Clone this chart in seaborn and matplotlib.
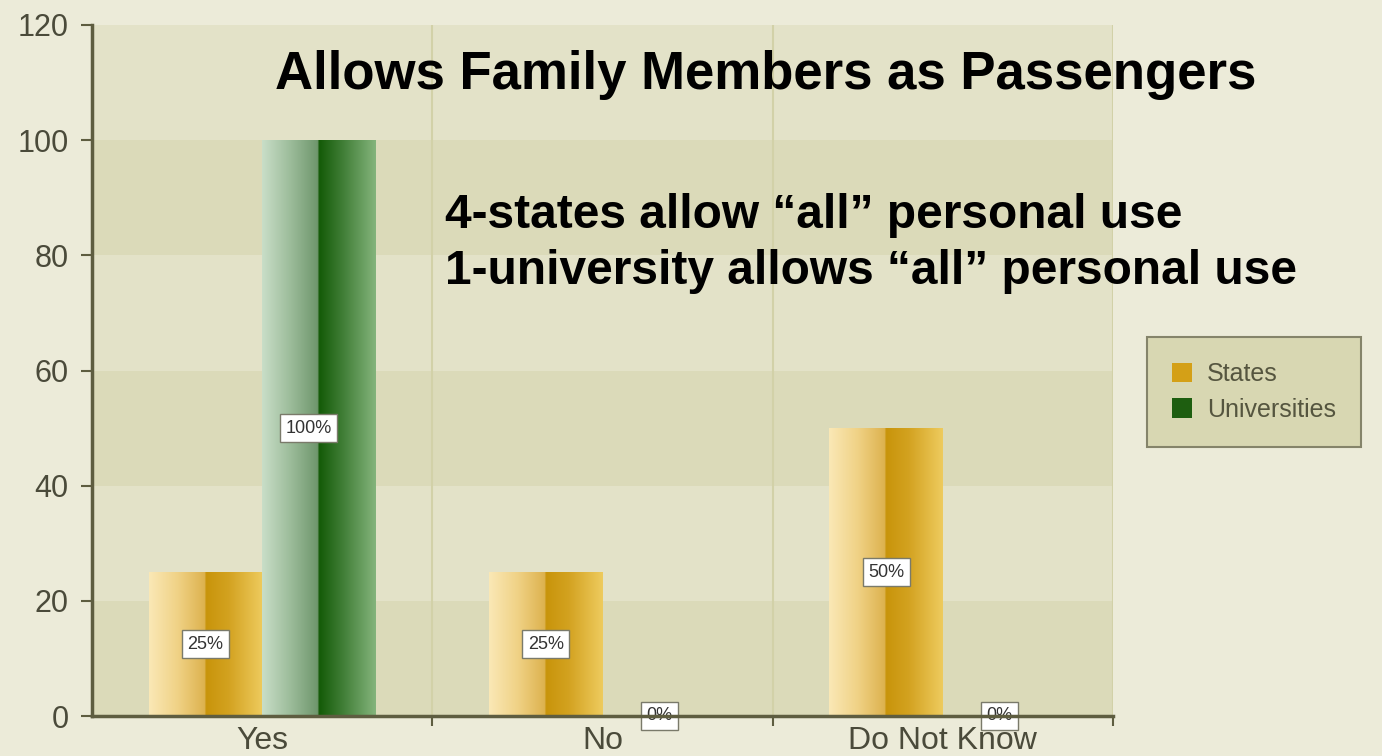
import numpy as np
import pandas as pd
import matplotlib
matplotlib.use("Agg")
import matplotlib.pyplot as plt
import seaborn as sns
from matplotlib.colors import LinearSegmentedColormap

# ---- data ----
categories = ["Yes", "No", "Do Not Know"]
states = [25, 25, 50]
universities = [100, 0, 0]
series = ["States", "Universities"]
y_ticks = [0, 20, 40, 60, 80, 100, 120]
title = "Allows Family Members as Passengers"
notes = ["4-states allow \u201call\u201d personal use",
         "1-university allows \u201call\u201d personal use"]

df = pd.DataFrame({
    "Response": categories * 2,
    "Percent": states + universities,
    "Group": [series[0]] * len(categories) + [series[1]] * len(categories),
})

sns.set_theme(style="white")
plt.rcParams['font.family'] = ['Liberation Sans', 'DejaVu Sans']

FIG_BG = "#ECEBD9"
AX_BG = "#E3E2C8"
BAND = "#DBDAB9"
SPINE = "#5E5D40"

W, H = 1382, 756
fig = plt.figure(figsize=(W / 100, H / 100), dpi=100, facecolor=FIG_BG)
ax = fig.add_axes([92 / W, 1 - 716 / H, (1113 - 92) / W, 691 / H])
ax.set_facecolor(AX_BG)

palette = {"States": "#D4A017", "Universities": "#1E5E10"}
sns.barplot(data=df, x="Response", y="Percent", hue="Group", palette=palette,
            width=0.667, saturation=1, ax=ax, legend=True, zorder=3)

# alternating bands
for lo in (0, 40, 80):
    ax.axhspan(lo, lo + 20, color=BAND, zorder=0, lw=0)

# category separators
for xb in (0.5, 1.5, 2.5):
    ax.axvline(xb, color="#D2D1A8", lw=1.5, zorder=1)

gold_cmap = LinearSegmentedColormap.from_list("gold", [
    (0.0, "#FAE8B6"), (0.25, "#F0D286"), (0.49, "#DDB24E"),
    (0.5, "#C8940A"), (0.7, "#D3A220"), (1.0, "#EECB5E")])
green_cmap = LinearSegmentedColormap.from_list("green", [
    (0.0, "#C9DEC8"), (0.25, "#9CBC9A"), (0.49, "#6E966C"),
    (0.5, "#135A07"), (0.7, "#3E7C34"), (1.0, "#84B47C")])
cmaps = [gold_cmap, green_cmap]
grad = np.linspace(0, 1, 256).reshape(1, -1)

for ci, cont in enumerate(ax.containers):
    for bar in cont:
        x0, w, h = bar.get_x(), bar.get_width(), bar.get_height()
        if h > 0:
            bar.set_edgecolor("none")
            im = ax.imshow(grad, cmap=cmaps[ci], aspect="auto",
                           extent=[x0, x0 + w, 0, h], zorder=4,
                           interpolation="bilinear")
            im.set_clip_path(bar)
        else:
            bar.set_edgecolor("#B8CDB4")
            bar.set_linewidth(2)
        ax.text(x0 + w / 2 - (0.03 if h >= 100 else 0), h / 2, f"{h:g}%",
                ha="center", va="center",
                fontsize=13, color="#333333", zorder=6,
                bbox=dict(boxstyle="square,pad=0.3", fc="white",
                          ec="#7A7A6A", lw=1))

ax.set_xlim(-0.5, 2.5)
ax.set_ylim(0, 120)
ax.set_yticks(y_ticks)
ax.set_xlabel("")
ax.set_ylabel("")
ax.set_xticks(range(len(categories)))
ax.set_xticklabels(categories)
ax.set_xticks([0.5, 1.5, 2.5], minor=True)
ax.tick_params(axis="x", which="major", length=0, labelsize=23,
               labelcolor="#4A4A3A", pad=7)
ax.tick_params(axis="x", which="minor", length=7, width=1.5, color=SPINE,
               direction="out", bottom=True)
ax.tick_params(axis="y", length=8, width=1.5, color=SPINE, direction="out",
               labelsize=22, labelcolor="#4A4A3A", left=True, pad=9)

for s in ("top", "right"):
    ax.spines[s].set_visible(False)
for s in ("left", "bottom"):
    ax.spines[s].set_color(SPINE)
    ax.spines[s].set_linewidth(2.5)
    ax.spines[s].set_zorder(7)

# legend
leg = ax.get_legend()
handles = leg.legend_handles
leg.remove()
leg = fig.legend(handles, series, loc="center",
                 bbox_to_anchor=(1254 / W, 1 - 392 / H),
                 bbox_transform=fig.transFigure, frameon=True, fancybox=False,
                 facecolor="#D8D7B2", edgecolor="#85846A", framealpha=1,
                 fontsize=18, handlelength=0.8, handleheight=0.8,
                 borderpad=1.0, labelspacing=0.45, handletextpad=0.6,
                 borderaxespad=0)
leg.get_frame().set_linewidth(1.5)
for t in leg.get_texts():
    t.set_color("#55553F")
for hnd, c in zip(leg.legend_handles, ["#D4A017", "#1E5E10"]):
    hnd.set_facecolor(c)
    hnd.set_edgecolor("none")

fig.text(766 / W, 1 - 75 / H, title, ha="center", va="center",
         fontsize=38, fontweight="bold", color="black")
fig.text(445 / W, 1 - 215 / H, notes[0], ha="left", va="center",
         fontsize=34.5, fontweight="bold", color="black")
fig.text(445 / W, 1 - 272 / H, notes[1], ha="left", va="center",
         fontsize=34.5, fontweight="bold", color="black")

fig.savefig("out.png", dpi=100, facecolor=FIG_BG)
